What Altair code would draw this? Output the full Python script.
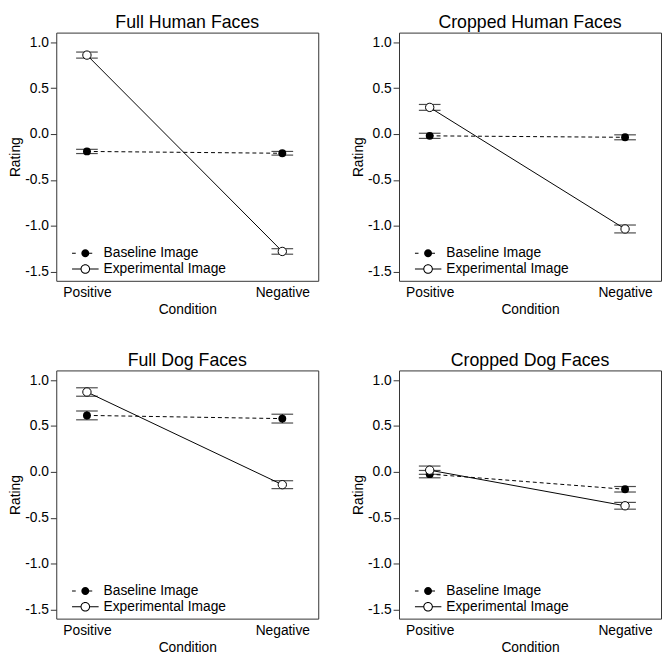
import altair as alt
import pandas as pd

# ---------------- data ----------------
panels = ["Full Human Faces", "Cropped Human Faces", "Full Dog Faces", "Cropped Dog Faces"]
conditions = ["Positive", "Negative"]
series_names = ["Baseline Image", "Experimental Image"]

baseline_mean = [[-0.19, -0.21], [-0.02, -0.036], [0.615, 0.58], [-0.025, -0.19]]
baseline_se = [[0.023, 0.02], [0.028, 0.027], [0.048, 0.048], [0.04, 0.03]]
experimental_mean = [[0.86, -1.28], [0.29, -1.035], [0.87, -0.14], [0.018, -0.37]]
experimental_se = [[0.033, 0.03], [0.032, 0.043], [0.046, 0.043], [0.045, 0.037]]

y_ticks = [-1.5, -1.0, -0.5, 0.0, 0.5, 1.0]

# ---------------- build table ----------------
rows = []
for p, panel in enumerate(panels):
    for s, (means, ses) in enumerate([(baseline_mean, baseline_se),
                                      (experimental_mean, experimental_se)]):
        for c, cond in enumerate(conditions):
            m = means[p][c]
            e = ses[p][c]
            rows.append(dict(panel=panel, series=series_names[s], condition=cond,
                             pos=c + 1, mean=m, lo=m - e, hi=m + e))
df = pd.DataFrame(rows)

FONT = "Liberation Sans"
BOX = "#333333"
FS = 14

cond_list = ",".join("'%s'" % c for c in conditions)
x_axis = alt.Axis(values=[1, 2], labelExpr="[%s][datum.value - 1]" % cond_list,
                  ticks=False, domain=False, grid=False, labelFlush=False,
                  labelPadding=5, titlePadding=3, labelFontSize=FS, titleFontSize=FS,
                  labelFont=FONT, titleFont=FONT, labelColor="black", titleColor="black",
                  titleFontWeight="normal")
x_scale = alt.Scale(domain=[0.843, 2.184], nice=False, zero=False)

y_axis = alt.Axis(values=y_ticks,
                  labelExpr="(datum.value < 0 ? '-' : '') + format(abs(datum.value), '.1f')",
                  tickSize=6, tickColor=BOX, domain=False, grid=False,
                  labelPadding=2, titlePadding=2, labelFontSize=FS, titleFontSize=FS,
                  labelFont=FONT, titleFont=FONT, labelColor="black", titleColor="black",
                  titleFontWeight="normal")
y_scale = alt.Scale(domain=[-1.6, 1.105], nice=False, zero=False)


def X():
    return alt.X("pos:Q", scale=x_scale, axis=x_axis, title="Condition")


def Y(field):
    return alt.Y(field, scale=y_scale, axis=y_axis, title="Rating")


# legend symbols drawn as filled shapes (1 unit = 13.5 px):
#   dashed line + filled dot  /  solid line + open ring
h = 0.04
path_base = ("M-1,-{h}L-0.72,-{h}L-0.72,{h}L-1,{h}Z "
             "M0.3,0 A0.3,0.3 0 1,1 -0.3,0 A0.3,0.3 0 1,1 0.3,0 Z "
             "M0.28,-{h}L0.52,-{h}L0.52,{h}L0.28,{h}Z").format(h=h)
path_exp = ("M-1,-{h}L-0.34,-{h}L-0.34,{h}L-1,{h}Z "
            "M0.34,-{h}L1,-{h}L1,{h}L0.34,{h}Z "
            "M0.36,0 A0.36,0.36 0 1,1 -0.36,0 A0.36,0.36 0 1,1 0.36,0 Z "
            "M0.285,0 A0.285,0.285 0 1,0 -0.285,0 A0.285,0.285 0 1,0 0.285,0 Z").format(h=h)


def panel_chart(name):
    base = alt.Chart(df).transform_filter(alt.datum.panel == name)
    b = base.transform_filter(alt.datum.series == series_names[0])
    e = base.transform_filter(alt.datum.series == series_names[1])

    line_b = b.mark_line(color="black", strokeWidth=1, strokeDash=[4, 3]).encode(x=X(), y=Y("mean:Q"))
    line_e = e.mark_line(color="black", strokeWidth=1).encode(x=X(), y=Y("mean:Q"))
    rule = base.mark_rule(color="black", strokeWidth=1).encode(x=X(), y=Y("lo:Q"), y2="hi:Q")
    caps = base.transform_fold(["lo", "hi"], as_=["bound", "val"]).mark_tick(
        orient="horizontal", size=22, thickness=1.2, color="black").encode(x=X(), y=Y("val:Q"))
    pts_b = b.mark_point(shape="circle", size=64, filled=True, color="black",
                         opacity=1).encode(x=X(), y=Y("mean:Q"))
    pts_e = e.mark_point(shape="circle", size=72, filled=True, fill="white", stroke="black",
                         strokeWidth=1, opacity=1).encode(x=X(), y=Y("mean:Q"))
    leg = alt.Legend(title=None, orient="none", legendX=16, legendY=216,
                     symbolSize=729, symbolFillColor="black", symbolStrokeWidth=0,
                     symbolOpacity=1, labelFont=FONT, labelFontSize=FS, labelColor="black",
                     labelOffset=5, rowPadding=0, clipHeight=16, padding=0)
    legend_layer = base.mark_point(filled=True, color="black", size=729, opacity=0).encode(
        x=X(), y=Y("mean:Q"),
        shape=alt.Shape("series:N", scale=alt.Scale(domain=series_names, range=[path_base, path_exp]),
                        legend=leg),
    )
    return alt.layer(line_b, line_e, rule, caps, pts_b, pts_e, legend_layer).properties(
        width=266, height=252,
        title=alt.TitleParams(name, fontSize=18, font=FONT, fontWeight="normal",
                              color="black", offset=1, anchor="middle"),
    )


row1 = alt.hconcat(panel_chart(panels[0]), panel_chart(panels[1]), spacing=32).resolve_scale(
    shape="independent").resolve_legend(shape="independent")
row2 = alt.hconcat(panel_chart(panels[2]), panel_chart(panels[3]), spacing=32).resolve_scale(
    shape="independent").resolve_legend(shape="independent")
chart = alt.vconcat(row1, row2, spacing=34).resolve_scale(
    shape="independent").resolve_legend(shape="independent").properties(padding=0).configure_view(
    stroke=BOX, strokeWidth=1)

chart.save("out.html", embed_options={"renderer": "svg", "actions": False})
